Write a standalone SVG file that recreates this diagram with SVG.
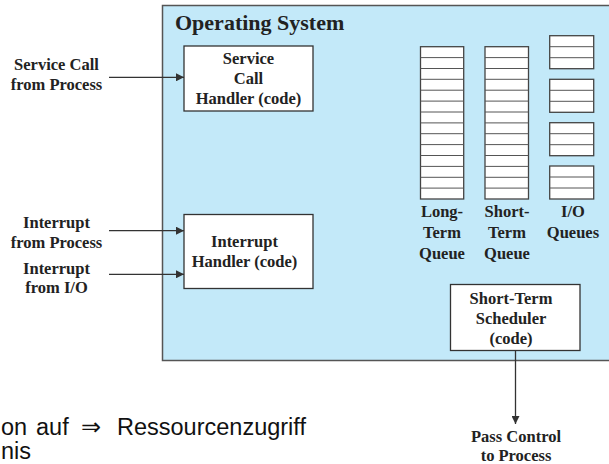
<svg xmlns="http://www.w3.org/2000/svg" width="609" height="464" viewBox="0 0 609 464">
<style>
.t{font-family:"Liberation Serif","Times New Roman",serif;font-weight:bold;font-size:16.5px;fill:#222;text-anchor:middle}
.box{fill:#fff;stroke:#333;stroke-width:1.3}
.q{fill:#fff;stroke:#444;stroke-width:1.3}
.ql{stroke:#555;stroke-width:1;fill:none}
.c{stroke:#333;stroke-width:1.3;fill:none}
.s{font-family:"Liberation Sans",Arial,sans-serif;font-size:23.5px;fill:#111}
</style>
<defs>
<marker id="ah" markerWidth="8" markerHeight="8" refX="8" refY="4" orient="auto" markerUnits="userSpaceOnUse">
<path d="M0,0 L8,4 L0,8 Z" fill="#333"/>
</marker>
</defs>
<rect width="609" height="464" fill="#fff"/>
<g id="os">
<rect x="162.5" y="5.5" width="460" height="355" fill="#c3e9f9" stroke="#555" stroke-width="1.5"/>
<text x="175" y="30" style="font-family:'Liberation Serif','Times New Roman',serif;font-weight:bold;font-size:22px;fill:#222">Operating System</text>
</g>
<g id="service-call-handler">
<rect class="box" x="184" y="46" width="129" height="65"/>
<text class="t" x="248.5" y="64">Service</text>
<text class="t" x="248.5" y="84">Call</text>
<text class="t" x="248.5" y="104">Handler (code)</text>
</g>
<g id="interrupt-handler">
<rect class="box" x="184" y="214.5" width="129" height="74"/>
<text class="t" x="244.5" y="247">Interrupt</text>
<text class="t" x="244.5" y="267">Handler (code)</text>
</g>
<g id="long-term-queue">
<rect class="q" x="420.5" y="46.7" width="43.2" height="152.3"/>
<path class="ql" d="M420.5,57.6H463.7M420.5,68.5H463.7M420.5,79.3H463.7M420.5,90.2H463.7M420.5,101.1H463.7M420.5,112H463.7M420.5,122.9H463.7M420.5,133.7H463.7M420.5,144.6H463.7M420.5,155.5H463.7M420.5,166.4H463.7M420.5,177.3H463.7M420.5,188.1H463.7"/>
<text class="t" x="442" y="217">Long-</text>
<text class="t" x="442" y="238">Term</text>
<text class="t" x="442" y="259">Queue</text>
</g>
<g id="short-term-queue">
<rect class="q" x="485" y="46.7" width="43.5" height="152.3"/>
<path class="ql" d="M485,57.6H528.5M485,68.5H528.5M485,79.3H528.5M485,90.2H528.5M485,101.1H528.5M485,112H528.5M485,122.9H528.5M485,133.7H528.5M485,144.6H528.5M485,155.5H528.5M485,166.4H528.5M485,177.3H528.5M485,188.1H528.5"/>
<text class="t" x="507" y="217">Short-</text>
<text class="t" x="507" y="238">Term</text>
<text class="t" x="507" y="259">Queue</text>
</g>
<g id="io-queues">
<rect class="q" x="549.7" y="35.7" width="44" height="33"/>
<path class="ql" d="M549.7,46.7H593.7M549.7,57.7H593.7"/>
<rect class="q" x="549.7" y="79.3" width="44" height="33"/>
<path class="ql" d="M549.7,90.3H593.7M549.7,101.3H593.7"/>
<rect class="q" x="549.7" y="122.7" width="44" height="33"/>
<path class="ql" d="M549.7,133.7H593.7M549.7,144.7H593.7"/>
<rect class="q" x="549.7" y="166" width="44" height="33"/>
<path class="ql" d="M549.7,177H593.7M549.7,188H593.7"/>
<text class="t" x="573" y="217">I/O</text>
<text class="t" x="573" y="238">Queues</text>
</g>
<g id="short-term-scheduler">
<rect class="box" x="450.5" y="284.5" width="129.5" height="66"/>
<text class="t" x="511" y="304">Short-Term</text>
<text class="t" x="511" y="324">Scheduler</text>
<text class="t" x="511" y="344">(code)</text>
</g>
<g id="labels">
<text class="t" x="56.5" y="70">Service Call</text>
<text class="t" x="56.5" y="90">from Process</text>
<text class="t" x="56.5" y="228">Interrupt</text>
<text class="t" x="56.5" y="247.5">from Process</text>
<text class="t" x="56.5" y="273.5">Interrupt</text>
<text class="t" x="56.5" y="293">from I/O</text>
<text class="t" x="516" y="442">Pass Control</text>
<text class="t" x="516" y="460.5">to Process</text>
</g>
<g id="connectors">
<line class="c" x1="109" y1="77.3" x2="184" y2="77.3" marker-end="url(#ah)"/>
<line class="c" x1="109" y1="230.7" x2="184" y2="230.7" marker-end="url(#ah)"/>
<line class="c" x1="109" y1="274.3" x2="184" y2="274.3" marker-end="url(#ah)"/>
<line class="c" x1="515.5" y1="350.5" x2="515.5" y2="424" marker-end="url(#ah)"/>
</g>
<g id="slide-text">
<text class="s" y="435"><tspan x="1">on</tspan><tspan x="36">auf</tspan><tspan x="81">⇒</tspan><tspan x="117">Ressourcenzugriff</tspan></text>
<text class="s" x="1" y="459">nis</text>
</g>
</svg>
